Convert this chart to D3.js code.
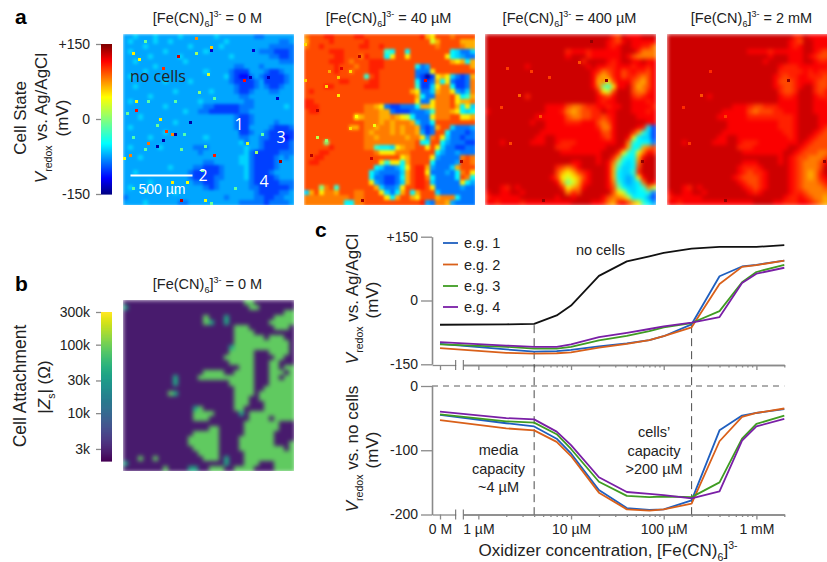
<!DOCTYPE html>
<html>
<head>
<meta charset="utf-8">
<script src="https://cdnjs.cloudflare.com/ajax/libs/d3/7.8.5/d3.min.js"></script>
<style>
  body { margin: 0; background: #fff; }
  svg { display: block; }
  text { font-family: "Liberation Sans", Arial, sans-serif; fill: #222; }
  .axis path, .axis line { stroke: #8a8a8a; stroke-width: 1.3px; }
  .axis text { font-size: 14px; font-family: "Liberation Sans", Arial, sans-serif; fill: #222; }
</style>
</head>
<body>
<div id="chart"></div>
<script>
// ---- line data: concentration in uM, 0 = no oxidizer ----
const concentrations = [0, 2, 4, 7, 10, 20, 40, 70, 100, 200, 400, 700, 1000, 2000];
const noCells  = [-57, -56, -55, -35, -12, 58, 92, 104, 112, 122, 126, 126, 126, 130];
const redoxEg1 = [-102, -115, -120, -119, -116, -108, -101, -93, -84, -56, 57, 80, 84, 94];
const redoxEg2 = [-112, -123, -125, -124, -122, -111, -102, -93, -84, -63, 39, 79, 83, 94];
const redoxEg3 = [-103, -109, -113, -113, -109, -94, -83, -72, -63, -53, -25, 43, 67, 84];
const redoxEg4 = [-98, -106, -109, -109, -103, -86, -76, -67, -61, -52, -39, 41, 63, 77];
const diffEg1 = [-45, -58, -63, -82, -105, -162, -190, -193, -192, -178, -69, -46, -42, -36];
const diffEg2 = [-53, -66, -69, -87, -109, -166, -192, -194, -192, -183, -86, -48, -42, -35];
const diffEg3 = [-44, -55, -57, -75, -98, -149, -171, -173, -172, -173, -150, -82, -59, -46];
const diffEg4 = [-40, -50, -52, -71, -92, -142, -165, -168, -170, -175, -164, -85, -63, -51];
const egNames = ['e.g. 1', 'e.g. 2', 'e.g. 3', 'e.g. 4'];
const egColors = ['#1f5fbf', '#d9601a', '#3f9c22', '#7a1fa6'];

// ---- heatmap data: one char per cell ----
const levelCodes  = 'ABCDEFGHIJKLMNOPQR'.split('');
const levelValues = [-140, -115, -100, -85, -72, -60, -50, -30, 0, 30, 50, 68, 82, 96, 108, 118, 130, 145];

const map0M = [
 'EEFEEEFEEEEFEEEEEEFEEEEEEEDDEEEEEE','EFEEEEFEEFEEEEEEEEEEFEEEEEEEEEEDDE','EEEEFEEEEEEEEFEEEEEFEEEEEEEEEDDDDD',
 'EFEEEEEEFEEEEEEEFEEEEEEEEEEDDDCCCD','EEEEEFEEEEEFEEEEEEEEEFEEEEEEEDDCCD','EEFEEEEEEEEEFEEEEEEEEEEEEEEEEEEDDD',
 'EEEEEEFEEEEEEEEEEEEEEEDDEEEDEEEEEE','EEEEFEEEEEEEEEEEFEEEEDCCCEEEDCCDEE','EFEEEEEEEEEEEEEEEEEEFDCBBDEDCCCCDE',
 'EEEEEEEEFEEEEFEEEEEEEDCCCCDECCCCDE','EEFEEEEEEEEEEEEEEEEEEEDCCCDEDCCDEE','EEEEEEEEEEFEEEEEEFEEEEDCCDEEEDDEEE',
 'EEEEEFEEEEEEEEEEEEEEEEEDDEEEEEEEEE','EFEEEEEEEEEEEEEFEEEEEEEEDDEEEEEEEE','EEEEEEEEFEEEEEEEDDCCCCCDDDEEEEEEFE',
 'EEEEEEEEEEEEFEEDDCCCCCCDDEEEEEEEEE','EEEFEEEEEEEEEEEEEEEEEEDCCDEEEEEEEE','EEEEEEEEEEFEEEEEEEEEEEDCCDEEEEDEEE',
 'EFEEEEEEEEEEEEEEEEEEEEDCCEEEEDCCCD','EEEEEEEEFEEEEEEEEEEEEEECCDEEDCCCCC','EEEEEFEEEEEEEEEEFEEEEEEDDEEDDCCCBC',
 'EEEEEEEEEEEEEEEEEEEEEEEFDEEDCCCCCD','EFEEEEEFEEEEEEDDDEEEEEEEFEEDCCCCCD','EEEEEEEEEEEEEEEDEEEEEEEEFDCCCCCDDD',
 'EEEFEEEEEEEEEEEEEEEEEEEFFDCCCCDEDE','EEEEEEEEEEEEEEEEDDEEEEEFFDCCCCDEEE','EEEEEEEEEFEEEEDDCCCDEEEEFDCCCCDEEE',
 'EEFEEEEEEEEEEDCCCCCDEEEEFDCCCDEEEE','EEEEEEEEEEEEEDCCCCDDEEEEFDCCCCDEEE','EEEEEFEEEEEEEEDDCCDEEEEEEDCCCCCDDD',
 'EFEEEEEEEEEEEEEEDCDEEEEEEDDCCCCCCD','EEEEEEEEEEFEEEEEEEEEEEEEEEDCCCCDDE','DEEEEEEEEEEEEEEEEEEEDEEEEEDDCCDDEE',
 'EEEEFEEEEEEDDEEEEEEEEEEDDDDDCDDDDE'
];
const map40uM = [
 'MNNNOONNNNOONNNNNNNNNNNOLKNNNMNNNN','LNNNNONNNNNNONNNNNNNNNNNNJLNNNNLLL','MNNONNNNNNNOONNONNNNNNNNNNMNNNNMLL',
 'NNNNNOOONNNNNNNNHGNNGNNNNNNNNGFDDF','NNNNNNOONNNMONNNGKNNKNNNNNNNKGFEDD','NNNNNOOONMNNNOOONNNNNNNNNNNNNLKLGL',
 'NNNNNNONNNMNNOOONNNNNNGDENNNNNNNNL','NNNNNNONNMNNNOONNNNNNNDDDKNNNNNNNN','NNNNNNNNNNNNHNONNNNNNNDCACKLKFDCDL',
 'NNNNNNNOONNNNOONNNNNNNGCCDLGKDCCDM','NNNNOONNNNNNOOONNNNNNNHCCFKMMGCCDM','NONNNNNNNNNNNNNNNNNNNLKDDFLMMKEDFM',
 'NNNNNNNNNNNNNNNNNNNNNNLGDDMMMNKGHL','OONNNNNNNNNNNNNNNNNNNNKDDKMMMNKLLM','OOONNNNNNNNNMMLKDCCDDDGLLKMMMNLGKF',
 'NOONNNNNNNNNMMMLLDCCCDDDEHMMMLKGFG','NNNNNNNNNNKLMMMLLMLKJGDDDKMMMNNKKL','NNNNNNNNNNNNMMMLMLMMMLFDDGNNNNNNNN',
 'NNNNNNNNNLLNMMLMMLMLMMLDCDLNNFDDDE','NNNNNNNNNNNNMLMMMLMLMMLECDNNGDDDCD','NNNNNNNNNNNNMMLMMMMMLMMKEMNKFDDCDD',
 'NNNNINNNNNNNMMMMMMMMMMNGGNNGEDDDCC','NNNNNONNNNNNMMHGGFKLMMNNKNKFDDCCDD','NNNOONNNNNNNNNMKKKMMMNNNNNGEDDEDDD',
 'NNOONNNNNNNNNNNNNNNKLNNNNKEDDDDMNM','NOONNNNNNNNNNNNKHKKGLNNNNGDDDDENNM','NNNNNNNNNNNNNNGFDDEGKNOOLEDDDFLNNN',
 'NNNNNNNNNNNNNGEDDDDFLNOOKDDDEDGMNK','NNNNNNNNNNNNNGDDCCDGLNOOMGDDDDGNMG','NNNNNNNNNNNNNKEDCCDFLNOONFDDDDDKGE',
 'NNNIMNHNNNNNNNLFDDEKNNOONKDDDDDEDD','FLNKMMLNNNMMNNNKFDGLNGLNNNFDDDDDDD','MMMMMMMMMNMMNNNNKGLNNLKNNNLMMMGDDD',
 'MMMMMMMMGGMMNNNNNNNNNNNOEDMMLEDDDD'
];
const map400uM = [
 'QQQQQQQQQQQQQQQQQQQQQQQQQONQPPPQQQ','QQQQQQQQQQQQQQQQQQQQQQQQPONPQPPPPP','QQQQQQQQQQQQQQQQQQQQQQQQPOPQQPPOOM',
 'QQQQQQQQQQQQQQQQOPPPOPPPPPPQQQOMMM','QQQQQQQQQQQQQQQQPQQQOPPPPPPQPNMMMM','QQQQQQQQQQQQQQQQQQQOQQQQPOPQQPPQPP',
 'QQQQQQQQPQQQQQQQQQQQPQPPOOPPPOPPOP','QQQQQQQQQQQQQQQQQQQQQPOMNOPNOPOONP','QQQQQQQQQQQQQQQQQQQQQPMLMOPNOONMNP',
 'QQQQQQQQQQQQQQQQQQQQQPLMKNPPPNMLNP','QQQQQQQQQQQQQQQQQQQQQPMIHKPPQNLMNP','QQQQQQQQQQQQQQQQQQQQQQOKJNQQQNMMOP',
 'QQQQQQQQOQQQQQQQQQQQQQPONPQQQONOPP','QQQQQQQQQQQQQQQQQQQQQQPOPPQQQPPPOP','QQQQQQQQQQQQPPPPNMMNOOPPOPPQQPPPPO',
 'PQQQQQQQQQQQPPPOMLMNNOOQPPQQQPPPOP','QQQQQQQQQQPPPPPPNMMNNOONOPQQQQPPPP','QQQQQQQQQPQQPPPPOOOPPPNMNPQQQQQQPP',
 'QQQQQQQQQQQQPPPPPPPPPPOMMPQQQQPOGC','QQQQQQQQQQQPPPPPPPPPPPPNNPQQQOLHFC','QQQQQQQQQQPPQQPPPPPPPPPONPQQPKGFFC',
 'QQQPQQQQQPPPQQPOOOPPPPPPPPQQMHGGGD','QQQQQQQQQQQQQQOOOPPPPPPPQQQPLGGLMN','QQQQQQQQQQQQQQQPPPPPPPPQQQOKHGKMPO',
 'QQQQQQQQQQQQQQQQQQQQQQPQQOLHGGLPQQ','QQQQQQQQQQQQQQQQQPPQQQPQPMIGFGMQQQ','QQQQQQQQQQQQQQONMNPQQQQQPLHFFGNQQQ',
 'QQQQQQQQQQQQQQNLKLNOPQQQPLGFFHOQQQ','QQQQQQQQQQQQQPNKJKLNPQQQPLGFEFKPQQ','QQQQQQQQQQQQQQPLIJLOPQQQPMHFEFGMQP',
 'QQQPOQPQQQQQQQQOKLMPQQQQPNIGFFGHMJ','PQQPPQQPQQQQQQQQMONQQQQQQNKJGFGGHD','OPPPPPPQQQQQQQPQQPQQQQQPNMMLJGGGEC',
 'PPOPPPPOPPPPPPPPPQQQQPPOMLOPNLKHGE'
];
const map2mM = [
 'QQQQQQQQQQQQQQQQQQQQQQQQQOOQPPPPPP','QQQQQQQQQQQQQQQQQQQQQQQQPONQQPPPPP','QQQQQQQQQQQQQQQQQQQQQQQQPOPQQPPPPP',
 'QQQQQQQQQQQQQQQQPPPPOPPPPPPQQPONOO','QQQQQQQQQQQQQQQQQQQQPQQQPPPQPONNNN','QQQQQQQQQQQQQQQQQQQPQQQQPPPQQPOOPP',
 'QQQQQQQQQQQQQQQQQQQQQQPOOOPPPPPPOP','QQQQQQQQQQQQQQQQQQQQQQOOOOOPOPOOOP','QQQQQQQQQQQQQQQQQQQQQPONOOPPOOONOP',
 'QQQQQQQQQQQQQQQQQQQQQPNNNOPPPONNOP','QQQQQQQQQQQQQQQQQQQQQPONNOPQQONNOP','QQQQQQQQQQQQQQQQQQQQQQONNOQQQONOPP',
 'QQQQQQQQPQQQQQQQQQQQQQPOOPQQQPOOPP','QQQQQQQQQQQQQQQQQQQQQQPPPPQQQPPPOP','QQQQQQQQQQQQQPPPONNOOOPPPPQQQPPPPP',
 'QQQQQQQQQQQPPPPPNMNNNOOPPPQQQPPPPP','QQQQQQQQQQPPPPPPOOOOOOOOOPQQQQPPPP','QQQQQQQQQQQQPPPPPPPPPPOOOPQQQQPPPO',
 'QQQQQQQQQQQQPPPPPPPPPPOOOPQQQQPONN','QQQQQQQQQQQPPPPPPPPPPPPOOPQQQPONNN','QQQQQQQQQQPPQQPPPPPPPPPPOPQQPONNNN',
 'QQQPQQQQQPPPQQPOOOPPPPPPPPQPONNNNN','QQQQQQQQQQQQQQOOOPPPPPPPQQPONNNNNN','QQQQQQQQQQQQQQQPPPPPPPPQQPONNNMMNN',
 'QQQQQQQQQQQQQQQQQQQQQQPQPONNMMMNOO','QQQQQQQQQQQQQQQPPPQQQQPQPONMMMNPQQ','QQQQQQQQQQQQQQPOOOPQQQQQPONMMMNQQQ',
 'QQQQQQQQQQQQQQPONOOPQQQQPONMLMOQQQ','QQQQQQQQQQQQQPONNNOPQQQQPONMLMOPQQ','QQQQQQQQQQQQQQPONNOPQQQQPONMMMNOPP',
 'QQQPOQPQQQQQQQQPONOPQQQQPONMMMMNNO','PQQPPQQPQQQQQQQQPOPQQQQQPOONMMMMMN','OPPPPPPQQQQQQQQQQQQQQQQPOOPONMMLMM',
 'PPOPPPPPPPPPPPPPPQQQQPPOOOPPONMLLM'
];
// impedance map: '.' background, d edge, e attached cells
const attachCodes  = ['.', 'd', 'e'];
const attachValues = [2900, 40000, 88000];
const mapAttach = [
 '........................ee........','d........................ee.......','................................ee',
 '................e...d.........eeee','................ed..d........eeeee','......................eee.....eee.',
 '......................eeee........','......................eeeeee.eee..','......................eeeeeeeeeee.',
 '.....................deeeeeeeeeee.','.....................eeeee...eeee.','....................eeeeee....ee..',
 '.....................eeeee...ee...','.......................eee...ee.ee','................eeee..eeee...eee.e',
 '..........d....eeeeeeeeeee...ee.ee','..........d..........eeeee...eeeee','......................eeee..eeeeee',
 '.........ed...........eeee.eeeeeee','......................eee..eeeeeee','......................eee...eeeeee',
 '..............de......ee....eeeeee','..............eeee.....d.eeeeeeeee','..............eee........eeee.eeee',
 '........................eeeeeee...','.................ee.....eeeeeee...','..............eeeee.....eeeeee....',
 '.............eeeeee....eeeeeee....','.............eeeeee....eeeeeee...e','..............eeeee....eeeeeeeee.e',
 '...............eeee.....eeeeeeeeee','...e..e.........eee.d...eeeeeeeeee','d...................d...eee...eeee',
 '........e....dd..eee..eeee....eeee'
];
// single outlying electrodes on the fine grid: [col, row, mV]
const specks0M = [
 [24,1,78],[29,4,60],[29,5,-130],[3,6,50],[18,7,128],[24,6,10],[5,8,45],[13,11,105],[40,15,115],[43,5,-130],
 [28,13,30],[4,22,40],[4,25,115],[12,28,50],[22,29,-140],[16,33,80],[17,33,-140],[14,32,100],[13,35,-140],[8,36,85],
 [11,37,-140],[30,40,110],[2,40,80],[0,41,40],[52,42,140],[19,55,135],[16,49,50],[21,49,45],[51,21,-130],[44,39,10],
 [41,36,30],[7,2,-10],[48,14,-135],[42,14,-135],[27,55,40],[1,26,-10],[8,22,-15],[17,22,-15],[25,19,0],[30,21,-15],
 [11,30,-10],[20,33,-20],[27,37,-10],[7,38,-15],[19,38,-10],[3,34,-20],[26,45,-10],[3,51,-15],[7,52,-10],[37,51,-15],
 [46,33,-15],[29,56,-10]
];
const specks40uM = [
 [18,7,135],[12,11,125],[4,25,135],[2,40,135],[52,42,140],[19,55,140],[40,15,122],[11,20,50],[15,12,55],[7,17,55],
 [0,3,55],[15,31,55],[17,27,45],[8,12,70],[11,14,60],[7,35,5],[4,34,20],[23,30,40],[0,15,60],[22,41,130]
];
const specks400uM = [
 [40,15,145],[15,12,100],[11,20,90],[5,24,100],[18,27,95],[21,14,100],[31,9,95],[52,42,145],[19,55,145],[7,11,100],
 [8,36,98],[35,2,145]
];
const specks2mM = [
 [19,55,145],[52,42,145],[11,20,95],[14,12,105],[40,15,145],[5,24,105],[7,36,102],[19,27,100]
];

// ---- colorbar ticks ----
const redoxTicks = [-150, 0, 150];
const attachTicks = [3000, 10000, 30000, 100000, 300000];
const attachTickLabels = ['3k', '10k', '30k', '100k', '300k'];

// ---- layout ----
const width = 827, height = 562;
const svg = d3.select('#chart').append('svg').attr('width', width).attr('height', height);
const defs = svg.append('defs');
function blurFilter(id, sd) {
  defs.append('filter').attr('id', id)
    .attr('x', '-5%').attr('y', '-5%').attr('width', '110%').attr('height', '110%')
    .attr('color-interpolation-filters', 'sRGB')
    .append('feGaussianBlur').attr('stdDeviation', sd);
}
blurFilter('soft', 1.4);
blurFilter('smooth', 2);
blurFilter('softer', 0.55);

// jet colormap
const jet = d3.scaleLinear()
  .domain([0, 0.11, 0.34, 0.65, 0.89, 1].map(t => -150 + t * 300))
  .range(['#00007f', '#0000ff', '#00ffff', '#ffff00', '#ff0000', '#7f0000'])
  .clamp(true);
const viridis = d3.scaleSequentialLog(d3.interpolateViridis).domain([2000, 300000]);

const redoxLevel = d3.scaleOrdinal().domain(levelCodes).range(levelValues);
const attachLevel = d3.scaleOrdinal().domain(attachCodes).range(attachValues);

const panelSize = 171;
const coarse = d3.scaleLinear().domain([0, 34]).range([0, panelSize]);
const fine = d3.scaleLinear().domain([0, 57]).range([0, panelSize]);

// subscripts and superscripts as tspans
function rich(sel, parts) {
  let shift = 0;
  parts.forEach(p => {
    const t = sel.append('tspan').text(p.t);
    let target = 0;
    if (p.sub) target = 0.3;
    if (p.sup) target = -0.4;
    const size = parseFloat(sel.attr('font-size'));
    t.attr('dy', (target - shift) * size);
    shift = target;
    if (p.sub || p.sup) t.attr('font-size', size * 0.62);
    if (p.i) t.attr('font-style', 'italic');
  });
}

function feCN(sel, suffix) {
  rich(sel, [{ t: '[Fe(CN)' }, { t: '6', sub: true }, { t: ']' }, { t: '3-', sup: true }, { t: suffix }]);
}

let clipId = 0;
function drawMap(x, y, rows, color, level, specks, title, blur) {
  const g = svg.append('g').attr('transform', `translate(${x},${y})`);
  const id = 'clip' + (clipId++);
  defs.append('clipPath').attr('id', id).append('rect').attr('width', panelSize).attr('height', panelSize);
  const body = g.append('g').attr('clip-path', `url(#${id})`);
  const cells = body.append('g').attr('filter', `url(#${blur})`);
  rows.forEach((row, r) => {
    cells.selectAll(null)
      .data(row.split(''))
      .enter().append('rect')
      .attr('x', (d, c) => coarse(c))
      .attr('y', coarse(r))
      .attr('width', coarse(1) + 0.5)
      .attr('height', coarse(1) + 0.5)
      .attr('shape-rendering', 'crispEdges')
      .attr('fill', d => color(level(d)));
  });
  body.append('g').attr('filter', 'url(#softer)')
    .selectAll('rect')
    .data(specks)
    .enter().append('rect')
    .attr('x', d => fine(d[0]))
    .attr('y', d => fine(d[1]))
    .attr('width', fine(1))
    .attr('height', fine(1))
    .attr('fill', d => color(d[2]));
  svg.append('text')
    .attr('x', x + panelSize / 2 - 1)
    .attr('y', y - 11.5)
    .attr('text-anchor', 'middle')
    .attr('font-size', 14.5)
    .call(feCN, ' = ' + title);
}

const mapTop = 34;
drawMap(123, mapTop, map0M, jet, redoxLevel, specks0M, '0 M', 'soft');
drawMap(304, mapTop, map40uM, jet, redoxLevel, specks40uM, '40 µM', 'soft');
drawMap(485, mapTop, map400uM, jet, redoxLevel, specks400uM, '400 µM', 'smooth');
drawMap(667, mapTop, map2mM, jet, redoxLevel, specks2mM, '2 mM', 'smooth');
drawMap(123, 300, mapAttach, viridis, attachLevel, [], '0 M', 'smooth');

// annotations on the first map
const labelFont = '"Open Sans", "Liberation Sans", sans-serif';
svg.append('text').attr('x', 130).attr('y', 82).attr('font-size', 16).style('font-family', labelFont).text('no cells');
const cellLabels = ['1', '2', '3', '4'];
const cellLabelX = [239, 203, 281, 264];
const cellLabelY = [130, 181, 143, 187];
cellLabels.forEach((d, i) => {
  svg.append('text').attr('x', cellLabelX[i]).attr('y', cellLabelY[i])
    .attr('text-anchor', 'middle').attr('font-size', 16)
    .style('font-family', labelFont).style('fill', '#fff').text(d);
});
svg.append('line').attr('x1', 130.5).attr('x2', 192.5).attr('y1', 175.5).attr('y2', 175.5)
  .attr('stroke', '#fff').attr('stroke-width', 2);
svg.append('text').attr('x', 162).attr('y', 194).attr('text-anchor', 'middle').attr('font-size', 14)
  .style('fill', '#fff').text('500 µm');

// colorbars
function colorbar(y0, y1, scale, color, ticks, fmt) {
  const steps = d3.range(0, 150).map(i => scale.invert(y1 + (y0 - y1) * (i + 0.5) / 150));
  svg.append('g').selectAll('rect').data(steps).enter().append('rect')
    .attr('x', 101).attr('width', 11)
    .attr('y', d => scale(d) - (y1 - y0) / 300)
    .attr('height', (y1 - y0) / 150 + 0.6)
    .attr('fill', d => color(d));
  svg.append('g').attr('class', 'axis')
    .attr('transform', 'translate(101,0)')
    .call(d3.axisLeft(scale).tickValues(ticks).tickSize(5).tickSizeOuter(0).tickPadding(6).tickFormat(fmt))
    .select('.domain').remove();
}
const redoxBar = d3.scaleLinear().domain([-150, 150]).range([194, 44]);
colorbar(44, 194, redoxBar, jet, redoxTicks, d => d > 0 ? '+' + d : '' + d);
const attachBar = d3.scaleLog().domain([2000, 300000]).range([461, 312]);
colorbar(312, 461, attachBar, viridis, attachTicks, d => attachTickLabels[attachTicks.indexOf(d)]);

// rotated labels
function vLabel(x, y, size, build) {
  const t = svg.append('text')
    .attr('transform', `translate(${x},${y}) rotate(-90)`)
    .attr('text-anchor', 'middle')
    .attr('font-size', size);
  build(t);
}
const vredox = rest => t => rich(t, [{ t: 'V', i: true }, { t: 'redox', sub: true }, { t: rest }]);
vLabel(26, 118, 17, t => t.text('Cell State'));
vLabel(47, 118, 17, vredox(' vs. Ag/AgCl'));
vLabel(68, 118, 17, t => t.text('(mV)'));
vLabel(26, 386, 17.5, t => t.text('Cell Attachment'));
vLabel(50, 387, 17, t => rich(t, [{ t: '|' }, { t: 'Z', i: true }, { t: 's', sub: true }, { t: '| (Ω)' }]));
vLabel(358, 299, 17, vredox(' vs. Ag/AgCl'));
vLabel(378, 300, 17, t => t.text('(mV)'));
vLabel(358, 449, 17, vredox(' vs. no cells'));
vLabel(378, 450, 17, t => t.text('(mV)'));

// panel letters
const panelLetters = ['a', 'b', 'c'];
const panelLetterX = [15, 15, 315];
const panelLetterY = [24, 291, 237];
panelLetters.forEach((d, i) => {
  svg.append('text').attr('x', panelLetterX[i]).attr('y', panelLetterY[i])
    .attr('font-size', 21).attr('font-weight', 'bold').style('fill', '#000').text(d);
});

// ---- panel c ----
const xZero = d3.scaleLinear().domain([-8, 15.7]).range([432, 455.7]);
const xLog = d3.scaleLog().domain([0.688, 2000]).range([463.3, 784.3]);
const xPos = c => c === 0 ? xZero(0) : xLog(c);
const yTop = d3.scaleLinear().domain([-150, 150]).range([364.3, 236.7]);
const yBottom = d3.scaleLinear().domain([-200, 0]).range([514.5, 386]);

const majorTicks = [1, 10, 100, 1000];
const minorTicks = [2, 3, 4, 5, 6, 7, 8, 9, 20, 30, 40, 50, 60, 70, 80, 90, 200, 300, 400, 500, 600, 700, 800, 900, 2000];
const majorLabels = ['1 µM', '10 µM', '100 µM', '1 mM'];

function xAxes(y, labelled) {
  const g = svg.append('g').attr('transform', `translate(0,${y})`);
  g.append('g').attr('class', 'axis')
    .call(d3.axisBottom(xLog).tickValues(minorTicks).tickSize(2.5).tickSizeOuter(0).tickFormat(''));
  g.append('g').attr('class', 'axis')
    .call(d3.axisBottom(xLog).tickValues(majorTicks).tickSize(5).tickSizeOuter(0).tickPadding(5)
      .tickFormat(d => labelled ? majorLabels[majorTicks.indexOf(d)] : ''));
  g.append('g').attr('class', 'axis')
    .call(d3.axisBottom(xZero).tickValues([0]).tickSize(5).tickSizeOuter(0).tickPadding(5)
      .tickFormat(() => labelled ? '0 M' : ''));
  // axis break marks
  [xZero.range()[1], xLog.range()[0]].forEach(bx => {
    g.append('line').attr('x1', bx).attr('x2', bx).attr('y1', -5).attr('y2', 5)
      .attr('stroke', '#666').attr('stroke-width', 1);
  });
}

function yAxis(scale, ticks) {
  const g = svg.append('g').attr('class', 'axis').attr('transform', 'translate(432,0)')
    .call(d3.axisLeft(scale).tickValues(ticks).tickSize(11).tickSizeOuter(0).tickPadding(3)
      .tickFormat(d => d > 0 ? '+' + d : '' + d));
  g.select('.domain').style('stroke-width', '1.6px');
}
xAxes(365, false);
xAxes(514.5, true);
yAxis(yTop, [-150, 0, 150]);
yAxis(yBottom, [-200, -100, 0]);

// dashed guides
const guideColor = '#4a4a4a';
svg.append('line').attr('x1', 432).attr('x2', xLog(2000))
  .attr('y1', yBottom(0)).attr('y2', yBottom(0))
  .attr('stroke', guideColor).attr('stroke-width', 0.9).attr('stroke-dasharray', '6,5');
[4, 200].forEach(c => {
  svg.append('line').attr('x1', xLog(c)).attr('x2', xLog(c))
    .attr('y1', yTop(-58)).attr('y2', yBottom(-200))
    .attr('stroke', guideColor).attr('stroke-width', 1).attr('stroke-dasharray', '8,5');
});

// lines
const drawLine = (scale, values, color) => {
  const line = d3.line().x((d, i) => xPos(concentrations[i])).y(d => scale(d));
  svg.append('path').datum(values)
    .attr('d', line).attr('fill', 'none')
    .attr('stroke', color).attr('stroke-width', 1.8).attr('stroke-linejoin', 'round');
};
drawLine(yTop, noCells, '#111');
[redoxEg1, redoxEg2, redoxEg3, redoxEg4].forEach((v, i) => drawLine(yTop, v, egColors[i]));
[diffEg1, diffEg2, diffEg3, diffEg4].forEach((v, i) => drawLine(yBottom, v, egColors[i]));

// legend
const legendRowY = [243, 264.5, 286, 307];
egNames.forEach((name, i) => {
  svg.append('line').attr('x1', 443).attr('x2', 458).attr('y1', legendRowY[i]).attr('y2', legendRowY[i])
    .attr('stroke', egColors[i]).attr('stroke-width', 1.8);
  svg.append('text').attr('x', 464).attr('y', legendRowY[i] + 5).attr('font-size', 14.5).text(name);
});

// text notes
svg.append('text').attr('x', 600.5).attr('y', 255).attr('text-anchor', 'middle').attr('font-size', 14.5).text('no cells');
function note(cx, lines, ys) {
  lines.forEach((s, i) => {
    svg.append('text').attr('x', cx).attr('y', ys[i]).attr('text-anchor', 'middle').attr('font-size', 14.5).text(s);
  });
}
note(498.5, ['media', 'capacity', '~4 µM'], [455, 473.5, 492]);
note(654, ['cells’', 'capacity', '>200 µM'], [437, 455.5, 474]);

svg.append('text').attr('x', 608).attr('y', 556).attr('text-anchor', 'middle').attr('font-size', 17)
  .call(rich, [{ t: 'Oxidizer concentration, [Fe(CN)' }, { t: '6', sub: true }, { t: ']' }, { t: '3-', sup: true }]);
</script>
</body>
</html>
